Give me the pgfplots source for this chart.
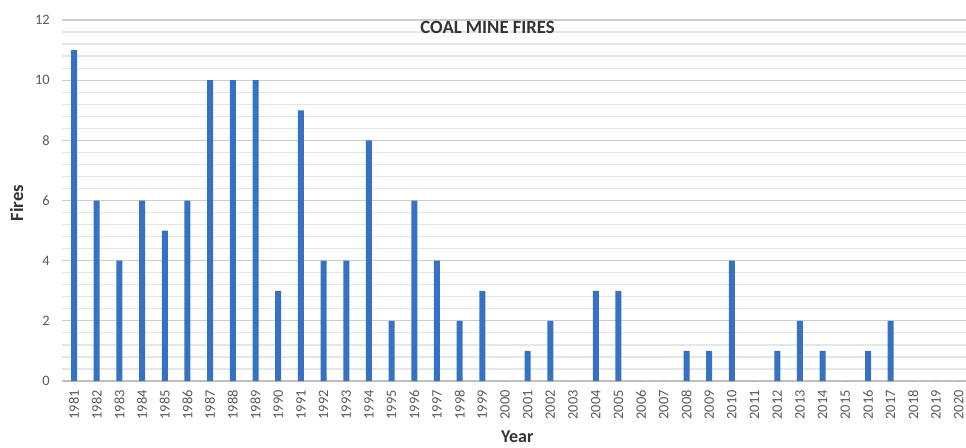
\documentclass[border=0pt]{standalone}
\usepackage{pgfplots}
\pgfplotsset{compat=1.18}
\usepackage{fontspec}
\setmainfont{Carlito}
\definecolor{barblue}{RGB}{54,113,196}
\definecolor{ticktext}{RGB}{89,89,89}
\definecolor{titletext}{RGB}{51,51,51}
\definecolor{majgrid}{RGB}{205,205,205}
\definecolor{mingrid}{RGB}{230,230,230}
\begin{document}
\begin{tikzpicture}
\path[use as bounding box] (0,0) rectangle (724.5pt,335.25pt);
\begin{axis}[
  at={(46.5pt,49.5pt)}, anchor=south west,
  scale only axis, width=678pt, height=270.75pt,
  xmin=1980.47, xmax=2020.32,
  ymin=0, ymax=12,
  ytick={0,2,...,12},
  minor y tick num=4,
  xtick={1981,...,2020},
  xticklabel style={yshift=-6.75pt, rotate=90, anchor=east, inner sep=0pt, font=\fontsize{10.8}{12}\selectfont, text=ticktext},
  yticklabel style={xshift=-9pt, anchor=east, inner sep=0pt, font=\fontsize{10.8}{12}\selectfont, text=ticktext},
  xticklabel={\pgfmathprintnumber[1000 sep=]{\tick}},
  /pgf/number format/assume math mode=true,
  major tick length=0pt, minor tick length=0pt,
  ymajorgrids, yminorgrids,
  major grid style={majgrid, line width=0.9pt},
  minor grid style={mingrid, line width=0.9pt},
  axis x line*=bottom, axis y line*=left,
  x axis line style={draw=black!25, line width=0.9pt, -},
  y axis line style={draw=none, -},
  ybar, bar width=4.5pt,
  clip=false,
]
\addplot[fill=barblue, draw=none] coordinates {
(1981,11) (1982,6) (1983,4) (1984,6) (1985,5) (1986,6) (1987,10) (1988,10)
(1989,10) (1990,3) (1991,9) (1992,4) (1993,4) (1994,8) (1995,2) (1996,6)
(1997,4) (1998,2) (1999,3) (2000,0) (2001,1) (2002,2) (2003,0) (2004,3)
(2005,3) (2006,0) (2007,0) (2008,1) (2009,1) (2010,4) (2011,0) (2012,1)
(2013,2) (2014,1) (2015,0) (2016,1) (2017,2) (2018,0) (2019,0) (2020,0)
};
\node[font=\bfseries\fontsize{14}{16}\selectfont, text=titletext] at (rel axis cs:0.4707,0.978) {COAL MINE FIRES};
\end{axis}
\node[rotate=90, font=\bfseries\fontsize{14}{16}\selectfont, text=titletext] at (12.4pt,183pt) {Fires};
\node[inner sep=0pt, font=\bfseries\fontsize{13.5}{15}\selectfont, text=titletext] at (388pt,7.5pt) {Year};
\end{tikzpicture}
\end{document}
